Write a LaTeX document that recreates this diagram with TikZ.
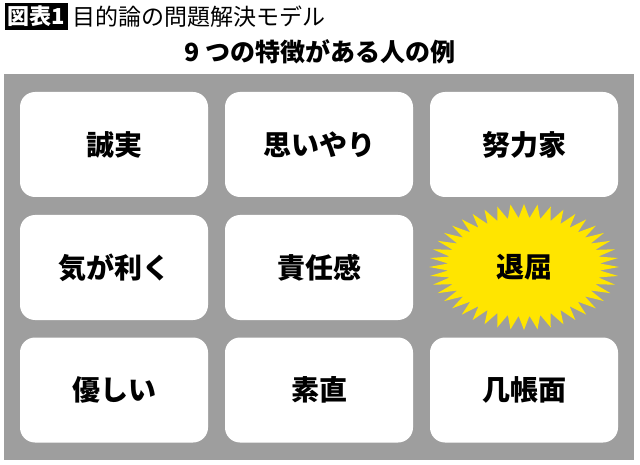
\documentclass[tikz,border=0pt]{standalone}
\usepackage{fontspec}
\setmainfont{Noto Sans CJK JP}
\definecolor{panelgray}{RGB}{158,158,158}
\definecolor{burst}{RGB}{255,229,0}
\tikzset{
  card/.style={fill=white, rounded corners=15pt, minimum width=188pt, minimum height=105pt, inner sep=0pt, font=\fontsize{28pt}{30pt}\selectfont\bfseries},
  lbl/.style={inner sep=0pt, font=\fontsize{28pt}{30pt}\selectfont\bfseries}
}
\begin{document}
\begin{tikzpicture}[x=1pt,y=-1pt]
\useasboundingbox (0,0) rectangle (640,465);
\fill[white] (0,0) rectangle (640,465);
% title
\node[fill=black, text=white, inner sep=0pt, minimum width=63pt, minimum height=27pt, font=\fontsize{22pt}{24pt}\selectfont\bfseries] (tag) at (36.5,16.5) {図表1};
\node[anchor=west, inner sep=0pt, font=\fontsize{23pt}{25pt}\selectfont] (title) at (72,16.5) {目的論の問題解決モデル};
\node[inner sep=0pt, font=\fontsize{25pt}{27pt}\selectfont\bfseries] (sub) at (320,52) {9 つの特徴がある人の例};
% panel
\fill[panelgray] (4,74) rectangle (634,460);
% cards
\node[card] (c1) at (114,144.5) {誠実};
\node[card] (c2) at (319,144.5) {思いやり};
\node[card] (c3) at (524,144.5) {努力家};
\node[card] (c4) at (114,267.5) {気が利く};
\node[card] (c5) at (319,267.5) {責任感};
\node[card] (c7) at (114,390) {優しい};
\node[card] (c8) at (319,390) {素直};
\node[card] (c9) at (524,390) {几帳面};
% starburst
\fill[burst] (524+95,267)
  \foreach \i in {1,...,87}{
    -- ({524+(mod(\i,2)==0 ? 95 : 76)*cos(\i*180/44)},{267+(mod(\i,2)==0 ? 63 : 49)*sin(\i*180/44)})
  } -- cycle;
\node[lbl] (c6) at (524,267.5) {退屈};
\end{tikzpicture}
\end{document}
